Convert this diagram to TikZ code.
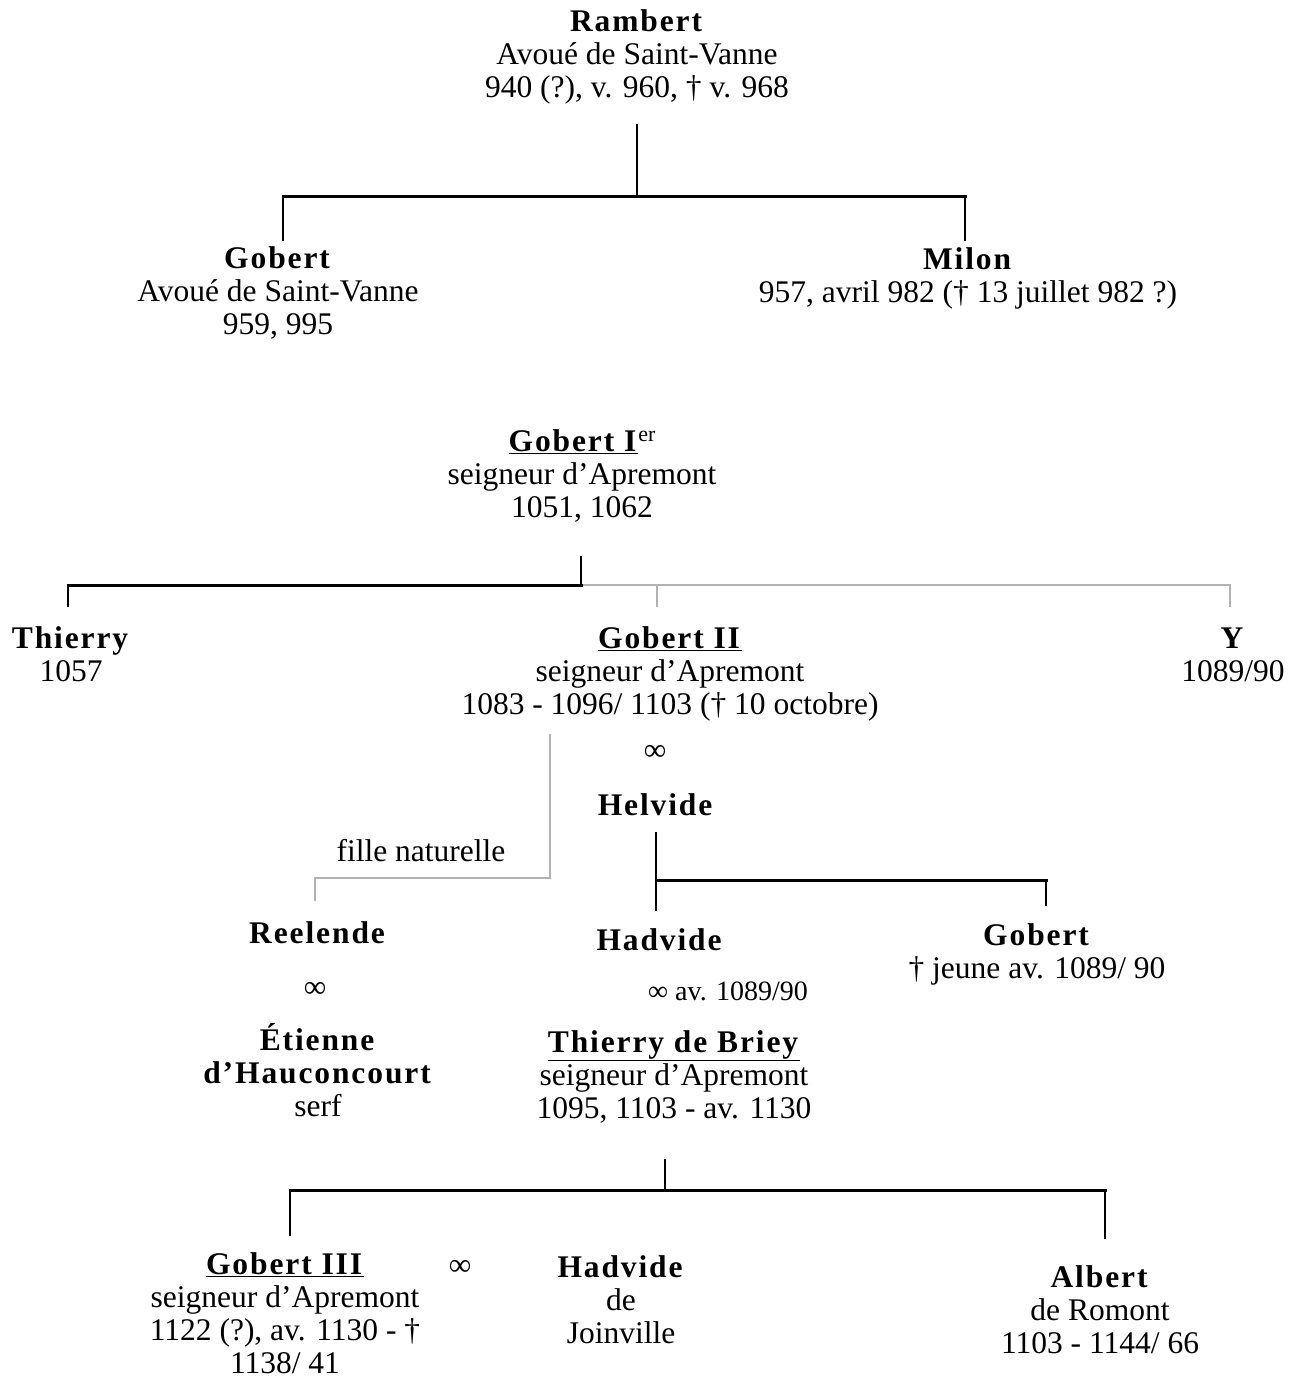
\documentclass[tikz,border=0pt]{standalone}
\usepackage{fontspec}
\setmainfont{Liberation Serif}[BoldFeatures={LetterSpace=6}]
\begin{document}
\begin{tikzpicture}[x=1pt,y=-1pt,
  person/.style={align=center,anchor=base,inner sep=0pt,font=\fontsize{31.5}{33}\selectfont},
  lbl/.style={anchor=base,inner sep=0pt,font=\fontsize{31.5}{33}\selectfont},
  vl/.style={line width=2pt,black},
  hl/.style={line width=3pt,black},
  gl/.style={line width=1.3pt,black!30},
  line cap=rect]
\useasboundingbox (0,0) rectangle (1293,1378);

% people (anchor = baseline of the last line)
\node[person] (rambert) at (637,98) {\textbf{Rambert}\\Avoué de Saint-Vanne\\940 (?), v. 960, † v. 968};
\node[person] (gobertA) at (278,334) {\textbf{Gobert}\\Avoué de Saint-Vanne\\959, 995};
\node[person] (milon) at (968,302) {\textbf{Milon}\\957, avril 982 († 13 juillet 982 ?)};
\node[person] (gobertI) at (582,517) {\underline{\textbf{Gobert I}}\raisebox{0.3em}{\fontsize{22}{22}\selectfont er}\\seigneur d’Apremont\\1051, 1062};
\node[person] (thierry) at (71,681) {\textbf{Thierry}\\1057};
\node[person] (gobertII) at (670,714) {\underline{\textbf{Gobert II}}\\seigneur d’Apremont\\1083 - 1096/ 1103 († 10 octobre)};
\node[person] (y) at (1233,681) {\textbf{Y}\\1089/90};
\node[lbl] (m1) at (655,760) {∞};
\node[person] (helvide) at (656,815) {\textbf{Helvide}};
\node[lbl] (fille) at (421,861) {fille naturelle};
\node[person] (reelende) at (318,943) {\textbf{Reelende}};
\node[lbl] (m2) at (315,997) {∞};
\node[person] (etienne) at (318,1116) {\textbf{Étienne}\\\textbf{d’Hauconcourt}\\serf};
\node[person] (hadvide) at (660,950) {\textbf{Hadvide}};
\node[lbl,font=\fontsize{28}{30}\selectfont] (m3) at (728,1000) {∞ av. 1089/90};
\node[person] (gobertB) at (1037,978) {\textbf{Gobert}\\† jeune av. 1089/ 90};
\node[person] (briey) at (674,1118) {\underline{\textbf{Thierry de Briey}}\\seigneur d’Apremont\\1095, 1103 - av. 1130};
\node[person] (gobertIII) at (285,1373) {\underline{\textbf{Gobert III}}\\seigneur d’Apremont\\1122 (?), av. 1130 - †\\1138/ 41};
\node[lbl] (m4) at (460,1275) {∞};
\node[person] (hadvideJ) at (621,1343) {\textbf{Hadvide}\\de\\Joinville};
\node[person] (albert) at (1100,1353) {\textbf{Albert}\\de Romont\\1103 - 1144/ 66};

% Rambert's children
\coordinate (b1) at (637,196);
\draw[vl] ([yshift=-20pt]rambert.south) -- (b1);
\draw[hl] (283,196) coordinate (b1l) -- (965,196) coordinate (b1r);
\draw[vl] (b1l) -- (b1l |- 0,240);
\draw[vl] (b1r) -- (b1r |- 0,240);

% Gobert Ier's children
\coordinate (b2) at (581,585);
\draw[vl] (b2 |- 0,557) -- (b2);
\draw[gl] (b2) -- (1230,585) coordinate (b2r);
\draw[gl] (657,585) coordinate (b2m) -- (657,606);
\draw[gl] (b2r) -- (1230,606);
\draw[hl] (b2) -- (68,585) coordinate (b2l);
\draw[vl] (b2l) -- (68,606);

% fille naturelle
\draw[gl] (550,735) coordinate (fn1) -- (550,878) coordinate (fn2) -- (315,878) coordinate (fn3) -- (315,900);

% Helvide's children
\draw[vl] (656,833) coordinate (h1) -- (656,910);
\draw[hl] (656,880) coordinate (h2) -- (1046,880) coordinate (h3);
\draw[vl] (h3) -- (1046,905);

% Thierry de Briey's children
\draw[vl] (665,1160) coordinate (t1) -- (665,1190);
\draw[hl] (290,1190) coordinate (t2) -- (1105,1190) coordinate (t3);
\draw[vl] (t2) -- (290,1235);
\draw[vl] (t3) -- (1105,1238);
\end{tikzpicture}
\end{document}
